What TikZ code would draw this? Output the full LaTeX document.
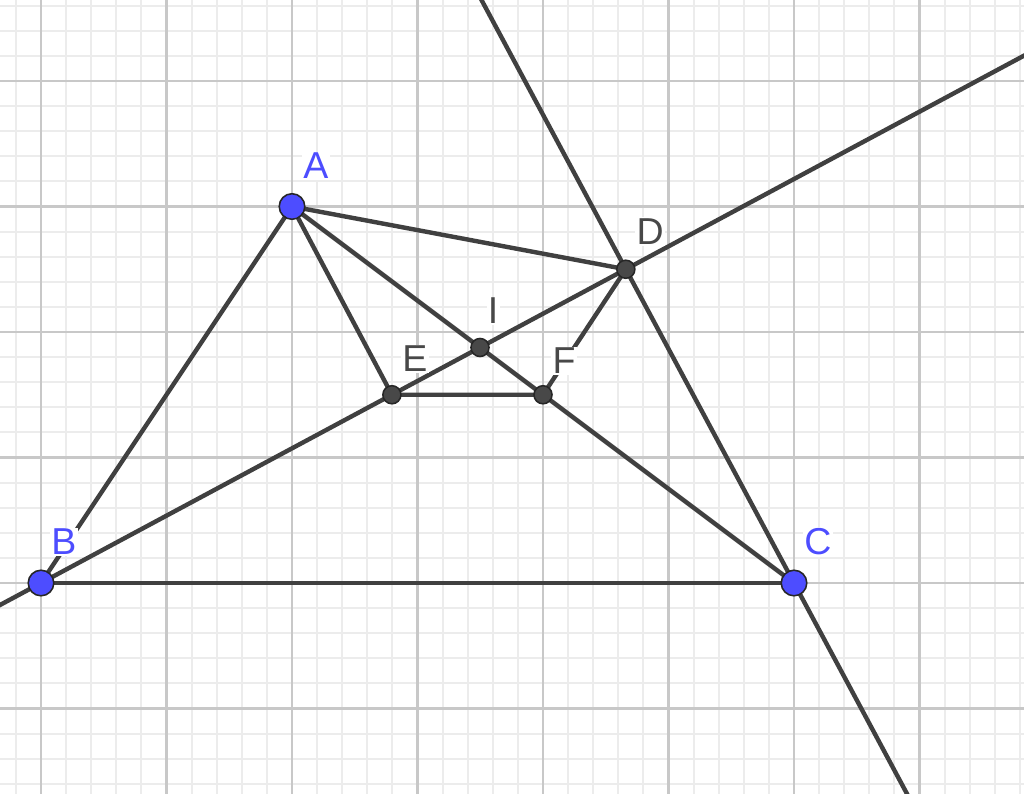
\documentclass[tikz,border=0pt]{standalone}
\usepackage{fontspec}
\setmainfont{Liberation Sans}
\usetikzlibrary{calc}
\definecolor{ggblue}{RGB}{77,77,255}
\definecolor{ggline}{RGB}{64,64,64}
\definecolor{ggdark}{RGB}{72,72,72}
\definecolor{majorgrid}{RGB}{200,200,200}
\definecolor{minorgrid}{RGB}{236,236,236}
\tikzset{
  geoline/.style={draw=ggline, line width=2pt, line cap=round, line join=round},
  bluept/.style={circle, draw=black!85, line width=0.7pt, fill=ggblue, minimum size=11.6pt, inner sep=0pt},
  darkpt/.style={circle, draw=black!85, line width=0.7pt, fill=ggdark, minimum size=8.2pt, inner sep=0pt},
  lab/.style={fill=white, inner sep=0.6pt, font=\fontsize{17}{20}\selectfont},
  bluelab/.style={lab, text=ggblue},
  darklab/.style={lab, text=ggdark},
}
\begin{document}
\begin{tikzpicture}[x=2cm,y=2cm]
\useasboundingbox (-0.3267,-1.6733) rectangle (7.8327,4.6454);
\clip (-0.3267,-1.6733) rectangle (7.8327,4.6454);
% grid
\draw[minorgrid, line width=0.9pt, step=0.2] (-1,-2) grid (8.4,5);
\draw[majorgrid, line width=1.3pt, step=1] (-1,-2) grid (8.4,5);
% points
\coordinate (A) at (2,3);
\coordinate (B) at (0,0);
\coordinate (C) at (6,0);
\coordinate (D) at (4.66,2.5);
\coordinate (I) at (intersection of A--C and B--D);
\coordinate (E) at ($(B)!0.6!(D)$);
\coordinate (F) at ($(A)!0.5!(C)$);
\coordinate (L1) at ($(B)!-1!(D)$);
\coordinate (L2) at ($(B)!2.2!(D)$);
\coordinate (M1) at ($(C)!-1!(D)$);
\coordinate (M2) at ($(C)!2.2!(D)$);
% lines
\draw[geoline] (L1) -- (L2);
\draw[geoline] (M1) -- (M2);
\draw[geoline] (A) -- (B);
\draw[geoline] (B) -- (C);
\draw[geoline] (A) -- (C);
\draw[geoline] (A) -- (D);
\draw[geoline] (A) -- (E);
\draw[geoline] (E) -- (F);
\draw[geoline] (F) -- (D);
% labels
\node[bluelab] (lA) at (2.191,3.323) {A};
\node[bluelab] (lB) at (0.183,0.327) {B};
\node[bluelab] (lC) at (6.191,0.327) {C};
\node[darklab] (lD) at (4.853,2.80) {D};
\node[darklab] (lI) at (3.602,2.167) {I};
\node[darklab] (lE) at (2.98,1.785) {E};
\node[darklab] (lF) at (4.167,1.769) {F};
% point markers
\node[bluept] (pA) at (A) {};
\node[bluept] (pB) at (B) {};
\node[bluept] (pC) at (C) {};
\node[darkpt] (pD) at (D) {};
\node[darkpt] (pI) at (I) {};
\node[darkpt] (pE) at (E) {};
\node[darkpt] (pF) at (F) {};
\end{tikzpicture}
\end{document}
